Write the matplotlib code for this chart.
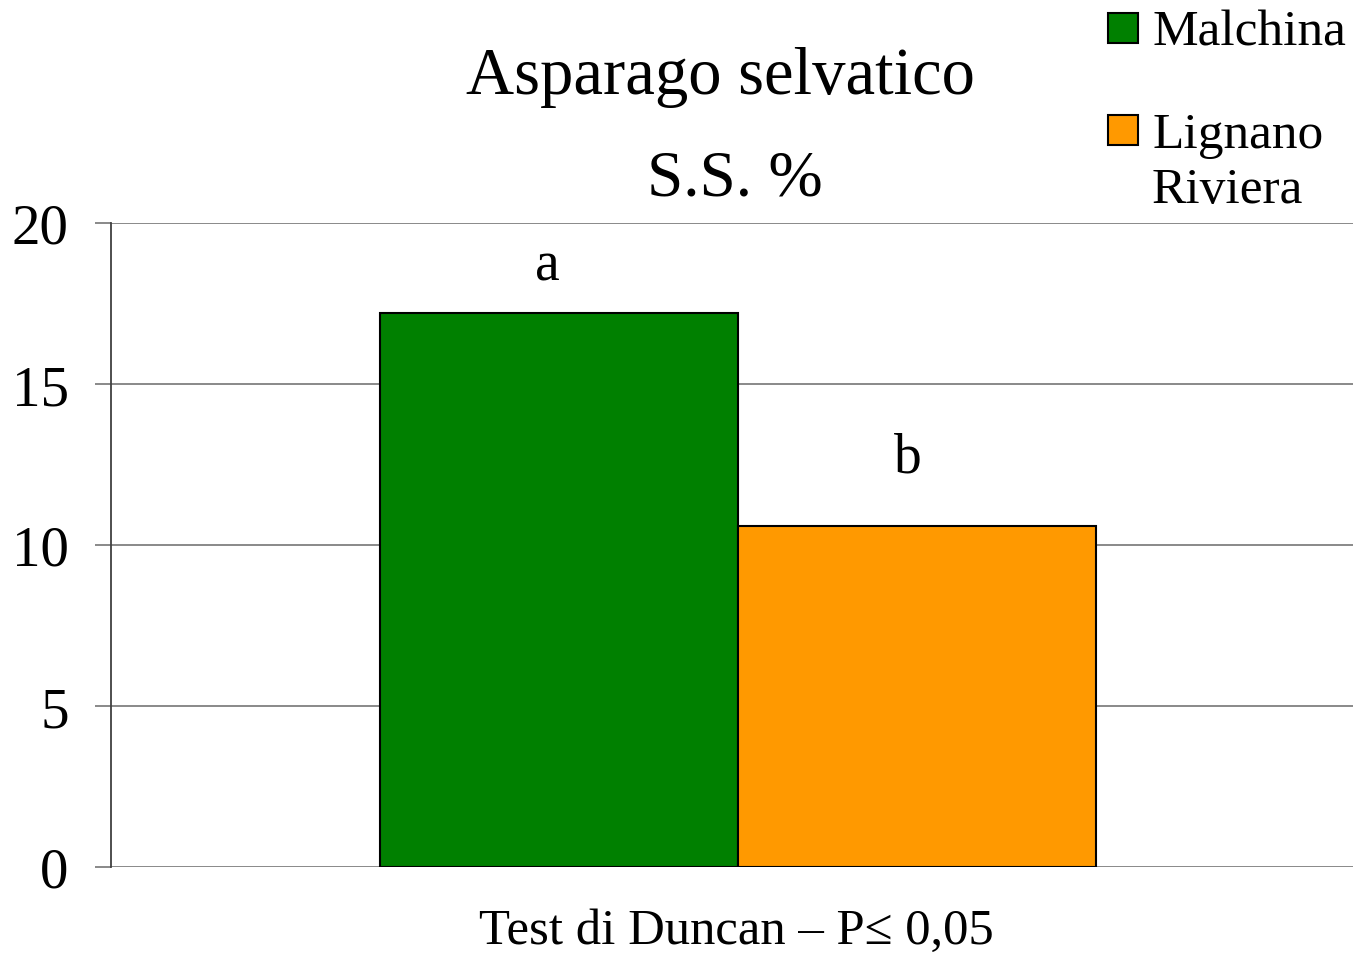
import matplotlib
matplotlib.use("Agg")
import matplotlib.pyplot as plt
from matplotlib.patches import Rectangle

# Data
categories = ["Test di Duncan – P≤ 0,05"]
series_names = ["Malchina", "Lignano\nRiviera"]
series_values = [17.2, 10.6]
series_colors = ["#008000", "#FF9900"]
letters = ["a", "b"]
yticks = [0, 5, 10, 15, 20]
title_lines = ["Asparago selvatico", "S.S. %"]

# Layout (pixels / offsets)
letter_dx = [-0.009, -0.007]
letter_dy = [1.06, 1.68]

plt.rcParams['font.family'] = ['Liberation Serif', 'DejaVu Serif']

W, H = 1353, 954
fig = plt.figure(figsize=(W / 100, H / 100), dpi=100)
ax = fig.add_axes([111 / W, (H - 868) / H, (1353 - 111) / W, (868 - 224) / H])

bw = 358 / 1242
x0 = 0.0
for i, (v, c, l) in enumerate(zip(series_values, series_colors, letters)):
    xc = x0 + (i - 0.5) * bw
    ax.bar(xc, v, width=bw, color=c, edgecolor="black", linewidth=1.5, zorder=3)
    ax.text(xc + letter_dx[i], v + letter_dy[i], l, ha="center", va="baseline",
            fontsize=40, zorder=4)

ax.set_xlim(-(738 - 111) / 1242, (1353 - 738) / 1242)
ax.set_ylim(0, 20)
ax.set_yticks(yticks)
ax.set_yticklabels([str(t) for t in yticks], fontsize=41)
ax.yaxis.grid(True, color="#808080", linewidth=1.3, zorder=0)
ax.tick_params(axis="y", length=11.5, width=1.3, color="#808080", pad=19)
ax.set_xticks([])
for s in ["top", "right", "bottom"]:
    ax.spines[s].set_visible(False)
ax.spines["left"].set_color("#404040")
ax.spines["left"].set_linewidth(1.3)

# Category label below
fig.text(736 / W, 1 - 944 / H, categories[0], ha="center", va="baseline", fontsize=36.5)

# Title
fig.text(720 / W, 1 - 94 / H, title_lines[0], ha="center", va="baseline", fontsize=48)
fig.text(735 / W, 1 - 196 / H, title_lines[1], ha="center", va="baseline", fontsize=47)

# Legend (manual)
box_centers = [29, 131]
label_baselines = [46, 148]
for name, c, yc, yb in zip(series_names, series_colors, box_centers, label_baselines):
    fig.patches.append(Rectangle((1108 / W, 1 - (yc + 15) / H), 30 / W, 30 / H,
                                 transform=fig.transFigure, facecolor=c,
                                 edgecolor="black", linewidth=1.5))
    lines = name.split("\n")
    for k, ln in enumerate(lines):
        fig.text(1152 / W, 1 - (yb + 55 * k) / H, ln, ha="left", va="baseline",
                 fontsize=37)

fig.savefig("out.png", dpi=100)
